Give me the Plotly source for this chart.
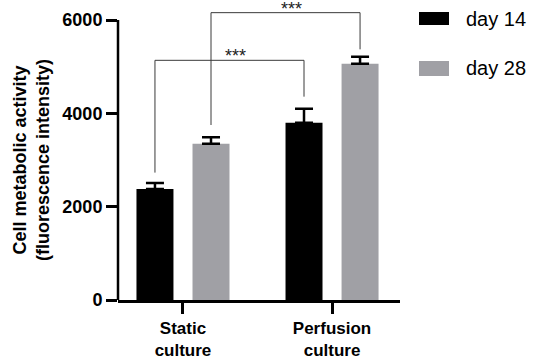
import plotly.graph_objects as go

categories = ["Static<br>culture", "Perfusion<br>culture"]
series_names = ["day 14", "day 28"]
day14_values = [2380, 3800]
day14_errors = [125, 300]
day28_values = [3350, 5060]
day28_errors = [140, 155]
y_ticks = [0, 2000, 4000, 6000]

# significance brackets: (series index a, series index b) compared across categories
bracket_series = [0, 1]
bracket_left_ends = [2730, 3750]
bracket_tops = [5136, 6157]
bracket_right_ends = [4357, 5371]
bracket_labels = ["***", "***"]

colors = ["#000000", "#a0a0a5"]
bargap = 0.248
bargroupgap = 0.34
slot = (1 - bargap) / 2
offsets = [-slot / 2, slot / 2]

FONT = "Liberation Sans, Arial, sans-serif"
xs = list(range(len(categories)))
Y_MAX_AXIS = 6000
Y_RANGE_TOP = 6300

fig = go.Figure()
for name, vals, errs, col in [
    (series_names[0], day14_values, day14_errors, colors[0]),
    (series_names[1], day28_values, day28_errors, colors[1]),
]:
    fig.add_trace(go.Bar(
        x=xs, y=vals, name=name, marker=dict(color=col, line=dict(width=0)),
        error_y=dict(type="data", array=errs, arrayminus=[0] * len(errs), symmetric=False,
                     color="#000000", thickness=2.5, width=9),
        showlegend=False,
    ))

annotations = []
for s, yl, yt, yr, lab in zip(bracket_series, bracket_left_ends, bracket_tops,
                              bracket_right_ends, bracket_labels):
    x0 = xs[0] + offsets[s]
    x1 = xs[1] + offsets[s]
    fig.add_trace(go.Scatter(
        x=[x0, x0, x1, x1], y=[yl, yt, yt, yr], mode="lines",
        line=dict(color="#3a3a3a", width=1), cliponaxis=False, showlegend=False,
        hoverinfo="skip",
    ))
    annotations.append(dict(
        x=(x0 + x1) / 2 + 0.04, y=yt, xref="x", yref="y", text=lab, showarrow=False,
        yanchor="bottom", yshift=-8, font=dict(family=FONT, size=18, color="#222"),
    ))

# layout geometry (pixels)
L, R, B = 118, 137, 60
H0 = 280  # pixel height of 0..6000
H = H0 * Y_RANGE_TOP / Y_MAX_AXIS
T = 360 - B - H
W = 537 - L - R
def px(xp):
    return (xp - L) / W
def py(yp):
    return (360 - B - yp) / H

shapes = [dict(type="line", xref="paper", yref="y", x0=0, x1=0, y0=0, y1=Y_MAX_AXIS,
               line=dict(color="#000", width=2.5), layer="above")]
legend_rows = [(12, 25), (61, 76)]
for (y0, y1), name, col in zip(legend_rows, series_names, colors):
    shapes.append(dict(type="rect", xref="paper", yref="paper",
                       x0=px(419), x1=px(449), y0=py(y1), y1=py(y0),
                       fillcolor=col, line=dict(width=0)))
    annotations.append(dict(x=px(464), y=py((y0 + y1) / 2), xref="paper", yref="paper",
                            text=name, showarrow=False, xanchor="left", yanchor="middle",
                            font=dict(family=FONT, size=20, color="#000")))

annotations.append(dict(
    x=px(31), y=py(160), xref="paper", yref="paper", textangle=-90, showarrow=False,
    text="<b>Cell metabolic activity<br>(fluorescence intensity)</b>",
    xanchor="center", yanchor="middle", font=dict(family=FONT, size=18, color="#000"),
))

fig.update_layout(
    width=537, height=360, margin=dict(l=L, r=R, t=T, b=B, autoexpand=False),
    paper_bgcolor="white", plot_bgcolor="white",
    barmode="group", bargap=bargap, bargroupgap=bargroupgap,
    shapes=shapes, annotations=annotations, showlegend=False,
    font=dict(family=FONT, color="#000"),
)
fig.update_xaxes(
    range=[-0.436, 1.456], tickvals=xs, ticktext=["<b>%s</b>" % c for c in categories],
    showline=True, linecolor="#000", linewidth=2.5, ticks="outside", ticklen=11,
    tickwidth=2.5, tickcolor="#000", showgrid=False, zeroline=False, automargin=False,
    tickfont=dict(family=FONT, size=17, color="#000"),
)
fig.update_yaxes(
    range=[0, Y_RANGE_TOP], tickvals=y_ticks, ticktext=["<b>%d</b>" % v for v in y_ticks],
    showline=False, ticks="outside", ticklen=11, automargin=False,
    tickwidth=2.5, tickcolor="#000", showgrid=False, zeroline=False,
    tickfont=dict(family=FONT, size=18, color="#000"),
)
fig.write_html("out.html", config={"displayModeBar": False},
               post_script="document.body.style.margin='0';document.body.style.overflow='hidden';")
